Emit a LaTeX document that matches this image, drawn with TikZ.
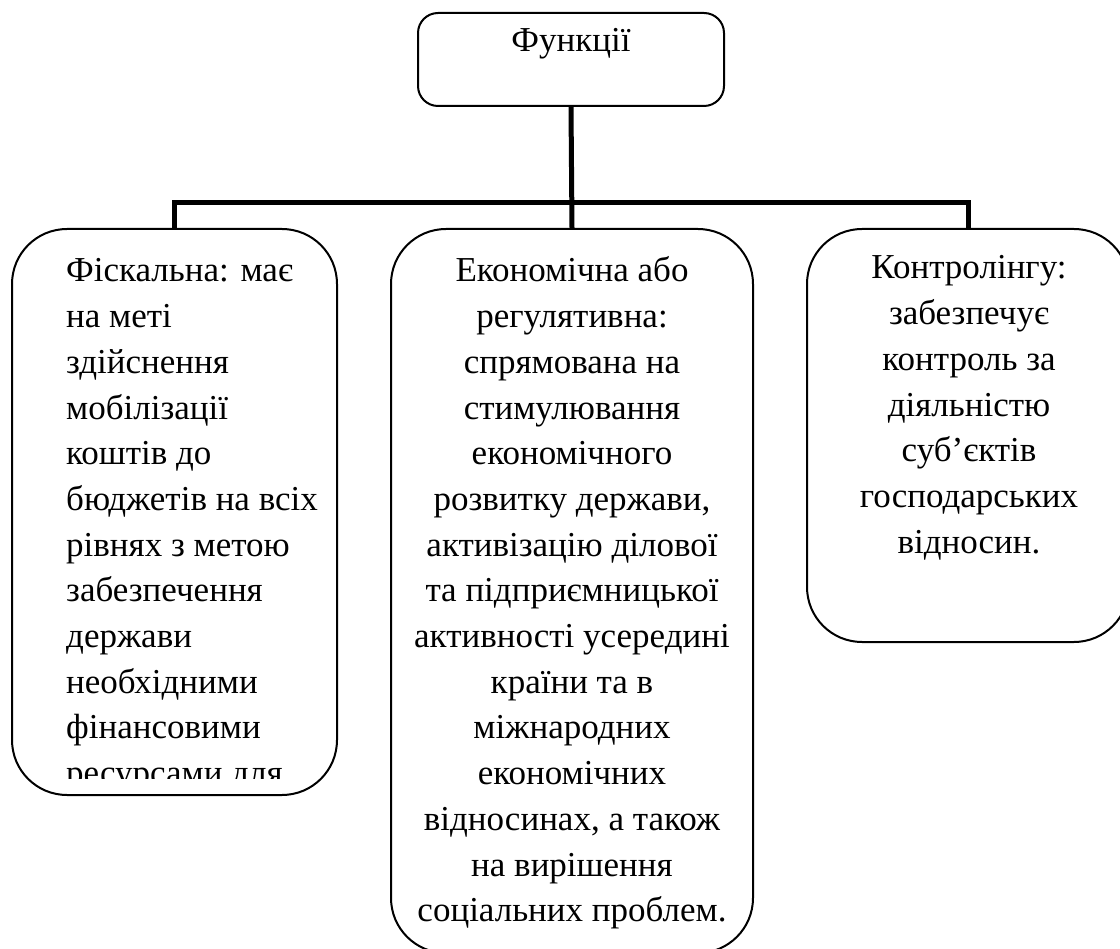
\documentclass[tikz,border=0pt]{standalone}
\usepackage{fontspec}
\setmainfont{Liberation Serif}
\begin{document}
\begin{tikzpicture}[x=1pt,y=-1pt,
  rbox/.style={draw, line width=2pt, inner sep=0pt, fill=none},
  conn/.style={draw, line width=5pt},
  txt/.style={inner sep=0pt, anchor=base, font=\rmfamily\fontsize{35}{45.7}\selectfont}]
\useasboundingbox (0,0) rectangle (1120,949);
% boxes
\node (top) [rbox, rounded corners=20pt, minimum width=306pt, minimum height=93pt] at (571,59.5) {};
\node (left) [rbox, rounded corners=55pt, minimum width=325pt, minimum height=566pt] at (174.5,512) {};
\node (mid) [rbox, rounded corners=55pt, minimum width=362pt, minimum height=724pt] at (572,591) {};
\node (right) [rbox, rounded corners=55pt, minimum width=322pt, minimum height=413pt] at (968,435.5) {};
% connectors
\coordinate (junc) at (572,203);
\draw[conn] (top.south) -- (mid.north);
\draw[conn] (left.north) |- (junc) -| (right.north);
% texts
\node (ttop) [txt] at (571,52) {Функції};
\begin{scope}
\clip (14,231) rectangle (335,778);
\node (tleft) [txt, anchor=base west] at (66,282) {\begin{minipage}[t]{270pt}\raggedright
Фіскальна: має\\
на меті\\
здійснення\\
мобілізації\\
коштів до\\
бюджетів на всіх\\
рівнях з метою\\
забезпечення\\
держави\\
необхідними\\
фінансовими\\
ресурсами для\\
виконання
\end{minipage}};
\end{scope}
\node (tmid) [txt] at (572,282) {\begin{minipage}[t]{350pt}\centering
Економічна або\\
регулятивна:\\
спрямована на\\
стимулювання\\
економічного\\
розвитку держави,\\
активізацію ділової\\
та підприємницької\\
активності усередині\\
країни та в\\
міжнародних\\
економічних\\
відносинах, а також\\
на вирішення\\
соціальних проблем.
\end{minipage}};
\node (tright) [txt] at (969,279) {\begin{minipage}[t]{300pt}\centering
Контролінгу:\\
забезпечує\\
контроль за\\
діяльністю\\
суб’єктів\\
господарських\\
відносин.
\end{minipage}};
\end{tikzpicture}
\end{document}
